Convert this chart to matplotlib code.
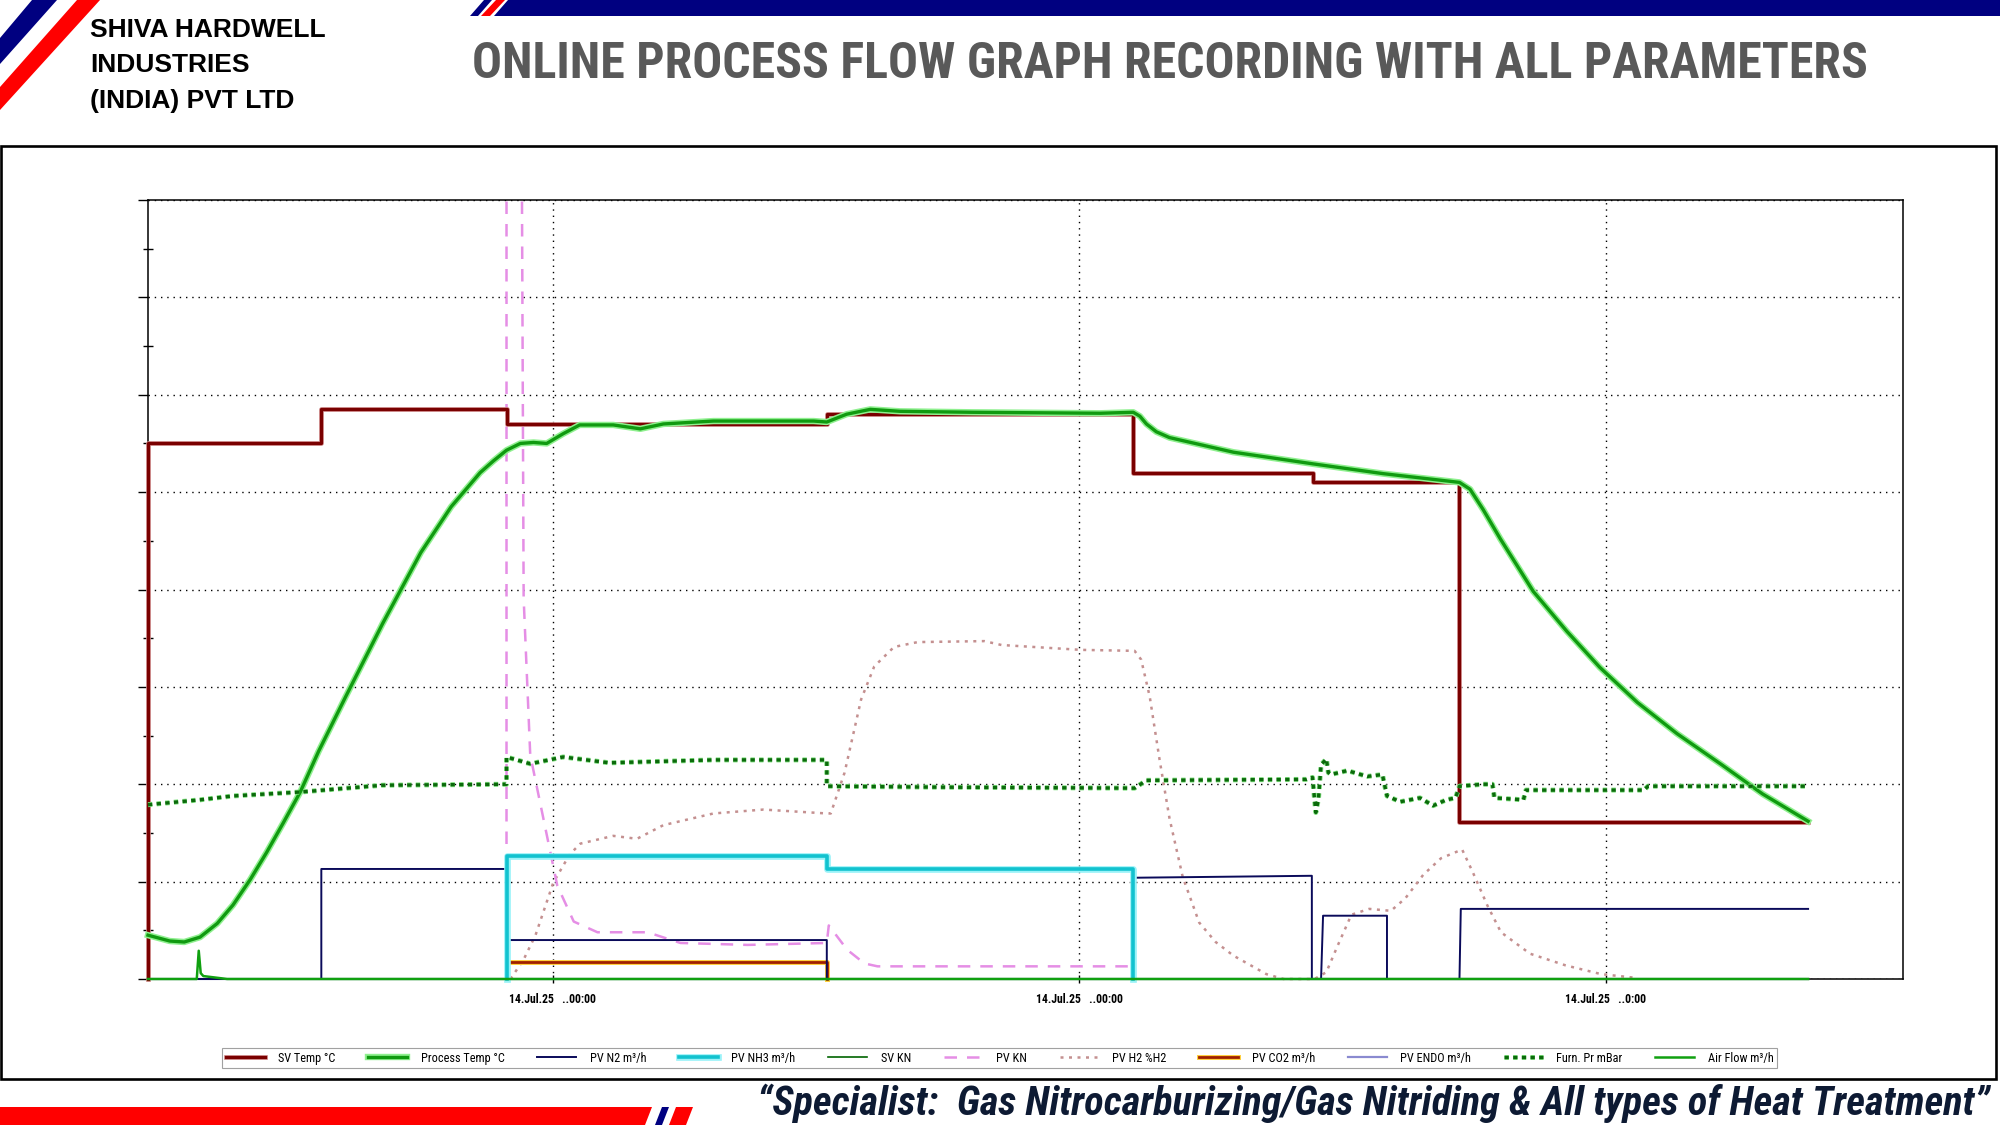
import matplotlib
matplotlib.use("Agg")
import matplotlib.pyplot as plt
from matplotlib import font_manager as fm
from matplotlib.patches import Polygon, Rectangle
from matplotlib.lines import Line2D
from matplotlib.ticker import MultipleLocator
import matplotlib.patheffects as pe

# ---------------- data ----------------
company_lines = ["SHIVA HARDWELL", "INDUSTRIES", "(INDIA) PVT LTD"]
title_text = "ONLINE PROCESS FLOW GRAPH RECORDING WITH ALL PARAMETERS"
footer_text = "\u201cSpecialist:  Gas Nitrocarburizing/Gas Nitriding & All types of Heat Treatment\u201d"

x_ticks = [6.14, 14.13, 22.12]          # hours from start of record
x_tick_labels = ["14.Jul.25   ..00:00", "14.Jul.25   ..00:00", "14.Jul.25   ..0:00"]
x_max = 26.63
y_max = 800

series_labels = ["SV Temp \u00b0C", "Process Temp \u00b0C", "PV N2 m\u00b3/h", "PV NH3 m\u00b3/h",
                 "SV KN", "PV KN", "PV H2 %H2", "PV CO2 m\u00b3/h", "PV ENDO m\u00b3/h",
                 "Furn. Pr mBar", "Air Flow m\u00b3/h"]

sv_t = [0, 0, 2.63, 2.63, 5.44, 5.44, 10.30, 10.30, 14.95, 14.95, 17.67, 17.67, 19.90, 19.90, 25.19]
sv_v = [0, 550, 550, 585, 585, 570, 570, 580, 580, 520, 520, 510, 510, 161, 161]

proc_t = [0, 0.33, 0.55, 0.79, 1.05, 1.29, 1.55, 1.80, 2.05, 2.31, 2.59, 3.00, 3.56, 4.14, 4.60,
          5.04, 5.24, 5.44, 5.65, 5.85, 6.05, 6.30, 6.55, 7.06, 7.47, 7.82, 8.58, 10.10, 10.30,
          10.60, 10.96, 11.41, 12.50, 14.45, 14.95, 15.05, 15.15, 15.30, 15.50, 16.47, 17.68,
          18.74, 19.90, 20.06, 20.26, 20.52, 20.77, 21.02, 21.53, 22.03, 22.60, 23.20, 23.88,
          24.50, 25.19]
proc_v = [45, 39, 38, 43, 57, 76, 102, 130, 160, 192, 234, 290, 365, 438, 485,
          520, 532, 543, 550, 551, 550, 560, 569, 569, 565, 570, 573, 573, 572,
          580, 585, 583, 582, 581, 582, 578, 570, 562, 556, 541, 529,
          519, 510, 503, 482, 452, 425, 398, 357, 320, 284, 252, 220,
          190, 162]

n2_t = [0, 2.63, 2.63, 5.44, 5.44, 10.30, 10.30, 14.95, 14.97, 17.66, 17.66, 17.80, 17.83,
        18.80, 18.80, 19.90, 19.92, 25.19]
n2_v = [0, 0, 113, 113, 40, 40, 0, 0, 104, 106, 0, 0, 65, 65, 0, 0, 72, 72]

nh3_t = [5.44, 5.44, 10.30, 10.30, 14.95, 14.95]
nh3_v = [0, 126, 126, 113, 113, 0]

svkn_t = [0, 25.19]
svkn_v = [0, 0]

kn_t = [5.44, 5.44, 5.65, 5.70, 5.80, 6.06, 6.21, 6.46, 6.82, 7.58, 8.08, 9.10, 10.30,
        10.33, 10.61, 10.87, 11.07, 14.97, 14.97]
kn_v = [0, 1200, 1200, 391, 230, 145, 96, 59, 48, 48, 37, 35, 37,
        55, 30, 16, 13, 13, 0]

h2_t = [5.50, 5.70, 5.88, 6.15, 6.40, 6.56, 7.06, 7.42, 7.82, 8.58, 9.34, 10.30, 10.36,
        10.57, 10.82, 11.02, 11.32, 11.68, 12.69, 12.95, 14.16, 14.97, 15.07, 15.20, 15.35,
        15.50, 15.70, 15.95, 16.20, 16.47, 16.97, 17.23, 17.70, 17.88, 18.05, 18.26, 18.53,
        18.86, 19.08, 19.35, 19.62, 19.94, 20.10, 20.32, 20.53, 20.97, 21.51, 22.05, 22.60]
h2_v = [0, 20, 45, 99, 128, 139, 147, 144, 158, 170, 174, 170, 170,
        212, 287, 321, 341, 346, 347, 343, 338, 337, 328, 290, 225,
        165, 105, 58, 38, 24, 5, 0, 0, 7, 34, 66, 72,
        70, 83, 107, 124, 133, 110, 76, 48, 26, 14, 5, 1]

co2_t = [5.44, 5.44, 10.30, 10.30]
co2_v = [0, 17, 17, 0]

endo_t = [0, 25.19]
endo_v = [0, 0]

furn_t = [0, 0.79, 1.29, 2.31, 3.56, 5.44, 5.44, 5.80, 6.30, 7.00, 8.58, 10.30, 10.30, 12.00,
          14.97, 15.15, 17.58, 17.67, 17.72, 17.76, 17.80, 17.88, 17.91, 17.95, 18.20, 18.50,
          18.73, 18.80, 19.00, 19.30, 19.50, 19.70, 19.84, 19.90, 20.26, 20.40, 20.43, 20.87,
          20.91, 22.70, 22.76, 25.19]
furn_v = [179, 184, 188, 192, 199, 200, 228, 221, 228, 222, 225, 225, 198, 197,
          196, 204, 205, 207, 171, 185, 220, 226, 212, 210, 214, 208,
          210, 188, 182, 186, 178, 184, 186, 198, 200, 200, 186, 184,
          194, 194, 198, 198]

air_t = [0, 0.74, 0.77, 0.80, 0.84, 1.20, 25.19]
air_v = [0, 0, 29, 6, 3, 0, 0]

# ---------------- figure ----------------
W, H = 2000, 1125
fig = plt.figure(figsize=(20, 11.25), dpi=100)
fig.patch.set_facecolor("white")

names = {f.name for f in fm.fontManager.ttflist}
NARROW = "Liberation Sans"
for cand in ["Liberation Sans Narrow", "Arial Narrow", "Roboto Condensed", "Open Sans Condensed"]:
    if cand in names:
        NARROW = cand
        break
BASE = "Liberation Sans" if "Liberation Sans" in names else "DejaVu Sans"


def P(x, y):
    return (x / W, 1 - y / H)


def poly(pts, color, z=1):
    fig.patches.append(Polygon([P(*p) for p in pts], closed=True, transform=fig.transFigure,
                               facecolor=color, edgecolor="none", zorder=z))


def fit(textobj, target):
    fig.canvas.draw()
    r = fig.canvas.get_renderer()
    w = textobj.get_window_extent(r).width
    textobj.set_fontsize(textobj.get_fontsize() * target / w)


# header decorations
NAVY = "#000080"
RED = "#ff0000"
poly([(32, 0), (57, 0), (0, 64), (0, 38)], NAVY)
poly([(77, 0), (100, 0), (0, 110), (0, 87)], RED)
poly([(484, 0), (492, 0), (478, 16), (470, 16)], NAVY)
poly([(496, 0), (505, 0), (490, 16), (481, 16)], RED)
poly([(508, 0), (2000, 0), (2000, 16), (494, 16)], NAVY)

# footer decorations
poly([(0, 1107), (652, 1107), (645, 1125), (0, 1125)], RED)
poly([(662, 1107), (669, 1107), (662, 1125), (655, 1125)], NAVY)
poly([(676, 1107), (693, 1107), (686, 1125), (669, 1125)], RED)

# company name
for i, s in enumerate(company_lines):
    fig.text(*P(90, 30 + 35.5 * i), s, fontsize=19, fontweight="bold", family=BASE,
             color="black", ha="left", va="center")

title = fig.text(*P(472, 64), title_text, fontsize=33, fontweight="bold", family=NARROW,
                 color="#595959", ha="left", va="center")
footer = fig.text(*P(1990, 1103), footer_text, fontsize=25, fontweight="bold", style="italic",
                  family=NARROW, color="#0d1a33", ha="right", va="center")

# chart frame
fig.patches.append(Rectangle(P(1, 1079), 1995 / W, (1079 - 146) / H, transform=fig.transFigure,
                             facecolor="none", edgecolor="black", linewidth=1.9, zorder=0))

# ---------------- axes ----------------
ax = fig.add_axes([148 / W, 1 - 979 / H, (1903 - 148) / W, (979 - 200) / H])
ax.set_xlim(0, x_max)
ax.set_ylim(0, y_max)
ax.yaxis.set_major_locator(MultipleLocator(100))
ax.yaxis.set_minor_locator(MultipleLocator(50))
ax.set_yticklabels([])
ax.tick_params(axis="y", which="major", direction="out", length=7, width=1, color="black")
ax.tick_params(axis="y", which="minor", direction="inout", length=7, width=1, color="black")
ax.set_xticks(x_ticks)
ax.set_xticklabels(x_tick_labels, fontsize=8.5, fontweight="bold", family=NARROW)
ax.tick_params(axis="x", direction="inout", length=6, width=1, pad=7, color="black")
ax.grid(True, which="major", linestyle=(0, (1, 3.5)), color="black", linewidth=1.0)
for sp in ax.spines.values():
    sp.set_linewidth(1.1)
    sp.set_color("black")

glow = lambda c, w: [pe.Stroke(linewidth=w, foreground=c), pe.Normal()]

styles = {
    "sv": dict(color="#7a0000", lw=2.3, path_effects=glow("#d08a8a", 3.4)),
    "proc": dict(color="#109a10", lw=2.4, path_effects=glow("#8ff08f", 4.6)),
    "n2": dict(color="#0a0a5a", lw=1.4),
    "nh3": dict(color="#12c2cf", lw=2.6, path_effects=glow("#9af2f8", 4.8)),
    "svkn": dict(color="#006400", lw=1.2),
    "kn": dict(color="#e58ee5", lw=1.8, linestyle=(0, (5, 4))),
    "h2": dict(color="#c49090", lw=1.8, linestyle=(0, (1.2, 2.2))),
    "co2": dict(color="#a02000", lw=2.0, path_effects=glow("#ffd040", 3.6)),
    "endo": dict(color="#8a8ad0", lw=1.6),
    "furn": dict(color="#0b6a0b", lw=2.4, linestyle=(0, (1.3, 1.3)), path_effects=glow("#7ee07e", 3.6)),
    "air": dict(color="#10a010", lw=1.8),
}

ax.plot(endo_t, endo_v, zorder=2, clip_on=False, **styles["endo"])
ax.plot(svkn_t, svkn_v, zorder=2.1, clip_on=False, **styles["svkn"])
ax.plot(h2_t, h2_v, zorder=3, clip_on=False, **styles["h2"])
ax.plot(kn_t, kn_v, zorder=3.1, clip_on=True, **styles["kn"])
ax.plot(co2_t, co2_v, zorder=3.2, clip_on=False, **styles["co2"])
ax.plot(n2_t, n2_v, zorder=3.3, clip_on=False, **styles["n2"])
ax.plot(nh3_t, nh3_v, zorder=3.4, clip_on=False, **styles["nh3"])
ax.plot(sv_t, sv_v, zorder=4, clip_on=False, **styles["sv"])
ax.plot(proc_t, proc_v, zorder=4.1, clip_on=False, **styles["proc"])
ax.plot(furn_t, furn_v, zorder=4.2, clip_on=False, **styles["furn"])
ax.plot(air_t, air_v, zorder=4.3, clip_on=False, **styles["air"])

# ---------------- legend ----------------
order = ["sv", "proc", "n2", "nh3", "svkn", "kn", "h2", "co2", "endo", "furn", "air"]
handles = []
for k in order:
    st = dict(styles[k])
    st.pop("path_effects", None)
    lw = st.pop("lw")
    handles.append(Line2D([], [], linewidth=lw, path_effects=styles[k].get("path_effects"), **st))

leg_fs = 8.8
fs_px = leg_fs * 100 / 72


def make_legend(cs):
    return fig.legend(handles, series_labels, loc="upper left", bbox_to_anchor=P(222, 1048),
                      ncol=11, frameon=True, fancybox=False, edgecolor="#8a8a8a",
                      handlelength=3.2, handletextpad=1.1, columnspacing=cs, borderpad=0.3,
                      borderaxespad=0, prop=dict(family=NARROW, size=leg_fs))


cs = 2.0
leg = make_legend(cs)
fig.canvas.draw()
w = leg.get_window_extent(fig.canvas.get_renderer()).width
leg.remove()
cs = max(0.5, cs + (1555 - w) / (10 * fs_px))
leg = make_legend(cs)
leg.get_frame().set_linewidth(0.8)

fit(title, 1398)
fit(footer, 1235)

fig.savefig("out.png", dpi=100, facecolor="white")
